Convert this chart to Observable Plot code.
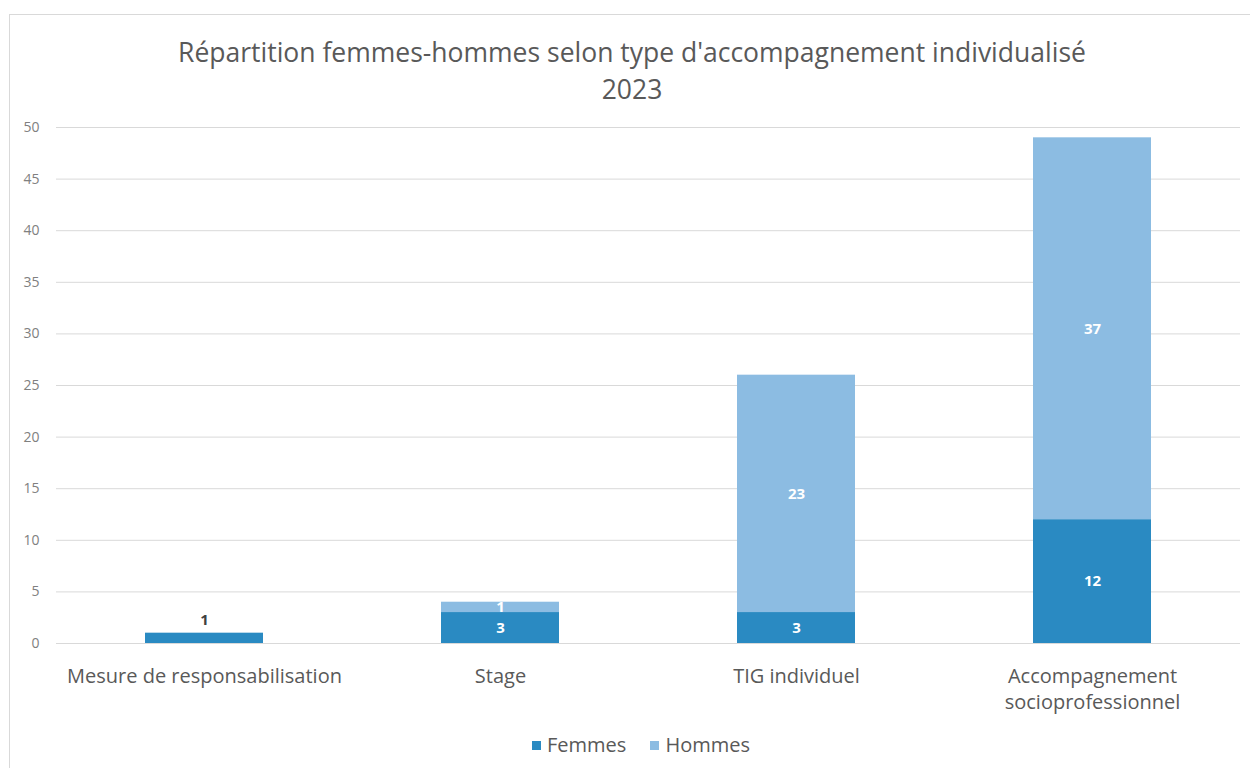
<!DOCTYPE html>
<html><head><meta charset="utf-8">
<script src="https://cdn.jsdelivr.net/npm/d3@7"></script>
<script src="https://cdn.jsdelivr.net/npm/@observablehq/plot@0.6"></script>
<style>
body{margin:0;background:#fff;font-family:"Open Sans",sans-serif;width:1250px;height:768px;overflow:hidden;position:relative}
#frame{position:absolute;left:9px;top:14px;width:1260px;height:800px;border:1px solid #d9d9d9;box-sizing:border-box}
#title{position:absolute;left:0;width:1264px;top:34px;text-align:center;color:#595959;font-size:26.5px;line-height:37px}
#chart{position:absolute;left:0;top:100px}
#legend{position:absolute;top:732px;left:0;width:1282px;text-align:center;font-size:20px;color:#595959;line-height:26px}
#legend span.sw{display:inline-block;width:9px;height:9px;margin-right:6px;vertical-align:middle;position:relative;top:-1px}
#legend span.it{margin:0 12px}
</style>
</head><body>
<div id="frame"></div>
<div id="title">Répartition femmes-hommes selon type d'accompagnement individualisé<br>2023</div>
<div id="chart"></div>
<div id="legend"></div>
<script>
const categories = ["Mesure de responsabilisation", "Stage", "TIG individuel", "Accompagnement socioprofessionnel"];
const categoryLabels = ["Mesure de responsabilisation", "Stage", "TIG individuel", "Accompagnement\nsocioprofessionnel"];
const series = ["Femmes", "Hommes"];
const femmes = [1, 3, 3, 12];
const hommes = [0, 1, 23, 37];
const colors = ["#2a8ac2", "#8cbce2"];
const yTicks = [0, 5, 10, 15, 20, 25, 30, 35, 40, 45, 50];

const data = categories.flatMap((c, i) => [
  {cat: c, serie: series[0], value: femmes[i], other: hommes[i]},
  {cat: c, serie: series[1], value: hommes[i], other: femmes[i]}
]);
const isOutside = d => d.value > 0 && d.other === 0 && d.value < 2;

const chart = Plot.plot({
  width: 1250,
  height: 620,
  marginLeft: 56,
  marginRight: 10,
  marginTop: 27,
  marginBottom: 77,
  style: {fontFamily: "'Open Sans', sans-serif", background: "transparent"},
  x: {domain: categories, paddingInner: 0.6, paddingOuter: 0.3, label: null},
  y: {domain: [0, 50], label: null},
  color: {domain: series, range: colors},
  marks: [
    Plot.gridY({ticks: yTicks, stroke: "#d9d9d9", strokeOpacity: 1}),
    Plot.axisY({ticks: yTicks, tickSize: 0, tickPadding: 17, fontSize: 14, fill: "#808080", label: null}),
    Plot.axisX({tickSize: 0, tickPadding: 21, fontSize: 20, fill: "#595959", lineHeight: 1.3,
      tickFormat: d => categoryLabels[categories.indexOf(d)], label: null}),
    Plot.barY(data, {x: "cat", y: "value", fill: "serie", z: "serie"}),
    Plot.text(data, Plot.stackY({x: "cat", y: "value", z: "serie", text: d => String(d.value),
      filter: d => d.value > 0 && !isOutside(d), fill: "white", fontWeight: "bold", fontSize: 15})),
    Plot.text(data, {x: "cat", y: "value", text: d => String(d.value), filter: isOutside,
      dy: -13, fill: "#404040", fontWeight: "bold", fontSize: 15})
  ]
});
document.getElementById("chart").appendChild(chart);

const legend = document.getElementById("legend");
series.forEach((s, i) => {
  const it = document.createElement("span");
  it.className = "it";
  it.innerHTML = `<span class="sw" style="background:${colors[i]}"></span>${s}`;
  legend.appendChild(it);
});
</script>
</body></html>
